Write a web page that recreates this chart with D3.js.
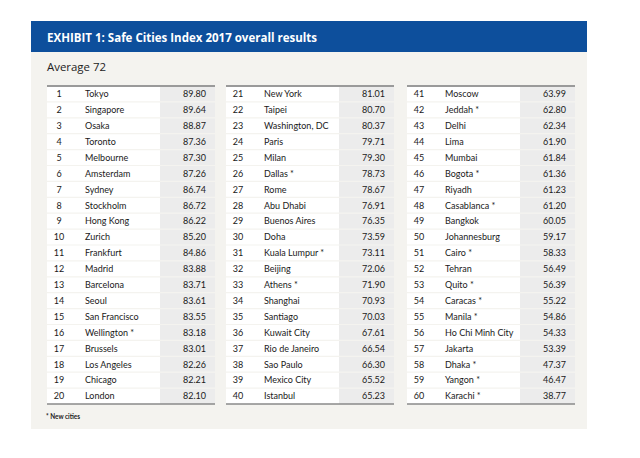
<!DOCTYPE html>
<html><head><meta charset="utf-8">
<script src="https://cdn.jsdelivr.net/npm/d3@7"></script>
<style>body{margin:0;background:#fff}svg{display:block}</style>
</head><body>
<svg id="c" width="640" height="458"></svg>
<script>
const title = "EXHIBIT 1: Safe Cities Index 2017 overall results";
const subtitle = "Average 72";
const footnote = "* New cities";
const ranks = d3.range(1, 61);
const cities = ["Tokyo","Singapore","Osaka","Toronto","Melbourne","Amsterdam","Sydney","Stockholm","Hong Kong","Zurich",
"Frankfurt","Madrid","Barcelona","Seoul","San Francisco","Wellington *","Brussels","Los Angeles","Chicago","London",
"New York","Taipei","Washington, DC","Paris","Milan","Dallas *","Rome","Abu Dhabi","Buenos Aires","Doha",
"Kuala Lumpur *","Beijing","Athens *","Shanghai","Santiago","Kuwait City","Rio de Janeiro","Sao Paulo","Mexico City","Istanbul",
"Moscow","Jeddah *","Delhi","Lima","Mumbai","Bogota *","Riyadh","Casablanca *","Bangkok","Johannesburg",
"Cairo *","Tehran","Quito *","Caracas *","Manila *","Ho Chi Minh City","Jakarta","Dhaka *","Yangon *","Karachi *"];
const scores = ["89.80","89.64","88.87","87.36","87.30","87.26","86.74","86.72","86.22","85.20",
"84.86","83.88","83.71","83.61","83.55","83.18","83.01","82.26","82.21","82.10",
"81.01","80.70","80.37","79.71","79.30","78.73","78.67","76.91","76.35","73.59",
"73.11","72.06","71.90","70.93","70.03","67.61","66.54","66.30","65.52","65.23",
"63.99","62.80","62.34","61.90","61.84","61.36","61.23","61.20","60.05","59.17",
"58.33","56.49","56.39","55.22","54.86","54.33","53.39","47.37","46.47","38.77"];

const svg = d3.select("#c");
const font = "'Open Sans', 'DejaVu Sans', sans-serif";
const tfont = "Lato, 'Open Sans', sans-serif";

// panel
svg.append("rect").attr("x",31).attr("y",21).attr("width",556).attr("height",408).attr("fill","#f4f3ef");
svg.append("rect").attr("x",31).attr("y",21).attr("width",556).attr("height",31).attr("fill","#0d4f9c");
svg.append("text").attr("x",47).attr("y",41.5).attr("fill","#fff")
  .attr("font-family",font).attr("font-weight","bold").attr("font-size",13)
  .attr("textLength",270).attr("lengthAdjust","spacingAndGlyphs").text(title);
svg.append("text").attr("x",47).attr("y",70.5).attr("fill","#222")
  .attr("font-family",font).attr("font-size",11.5)
  .attr("textLength",59).attr("lengthAdjust","spacingAndGlyphs").text(subtitle);
svg.append("text").attr("x",46).attr("y",419).attr("fill","#222")
  .attr("font-family",tfont).attr("font-weight","bold").attr("font-size",7.5)
  .attr("textLength",34).attr("lengthAdjust","spacingAndGlyphs").text(footnote);

const colX = d3.scaleOrdinal().domain([0,1,2]).range([47,226,407]);
const colW = 168;
const y = d3.scaleBand().domain(d3.range(20)).range([86,404]).paddingInner(0);

const rows = ranks.map((r,i)=>({rank:r, city:cities[i], score:scores[i], col:Math.floor(i/20), row:i%20}));

const g = svg.append("g");
const rg = g.selectAll("g.row").data(rows).join("g")
  .attr("transform", d=>`translate(${colX(d.col)},${y(d.row)})`);
rg.append("rect").attr("width",colW).attr("height",y.bandwidth()).attr("fill","#fff");
rg.append("rect").attr("x",113).attr("width",colW-113).attr("height",y.bandwidth()).attr("fill","#ececec");
rg.filter(d=>d.row>0).append("line").attr("x1",0).attr("x2",colW).attr("y1",0).attr("y2",0)
  .attr("stroke","#f4f3ef").attr("stroke-width",1.2);
const ty = y.bandwidth()/2+3.3;
rg.append("text").attr("x",12).attr("y",ty).attr("text-anchor","middle")
  .attr("font-family",tfont).attr("font-size",9).attr("fill","#1a1a1a").text(d=>d.rank);
rg.append("text").attr("x",38).attr("y",ty)
  .attr("font-family",tfont).attr("font-size",9).attr("fill","#1a1a1a").text(d=>d.city);
rg.append("text").attr("x",159).attr("y",ty).attr("text-anchor","end")
  .attr("font-family",tfont).attr("font-size",9).attr("fill","#1a1a1a").text(d=>d.score);

// borders
[0,1,2].forEach(c=>{
  svg.append("line").attr("x1",colX(c)).attr("x2",colX(c)+colW).attr("y1",86).attr("y2",86)
    .attr("stroke","#9a9a9a").attr("stroke-width",2);
  svg.append("line").attr("x1",colX(c)).attr("x2",colX(c)+colW).attr("y1",404).attr("y2",404)
    .attr("stroke","#8a8a8a").attr("stroke-width",1.5);
});
</script>
</body></html>
